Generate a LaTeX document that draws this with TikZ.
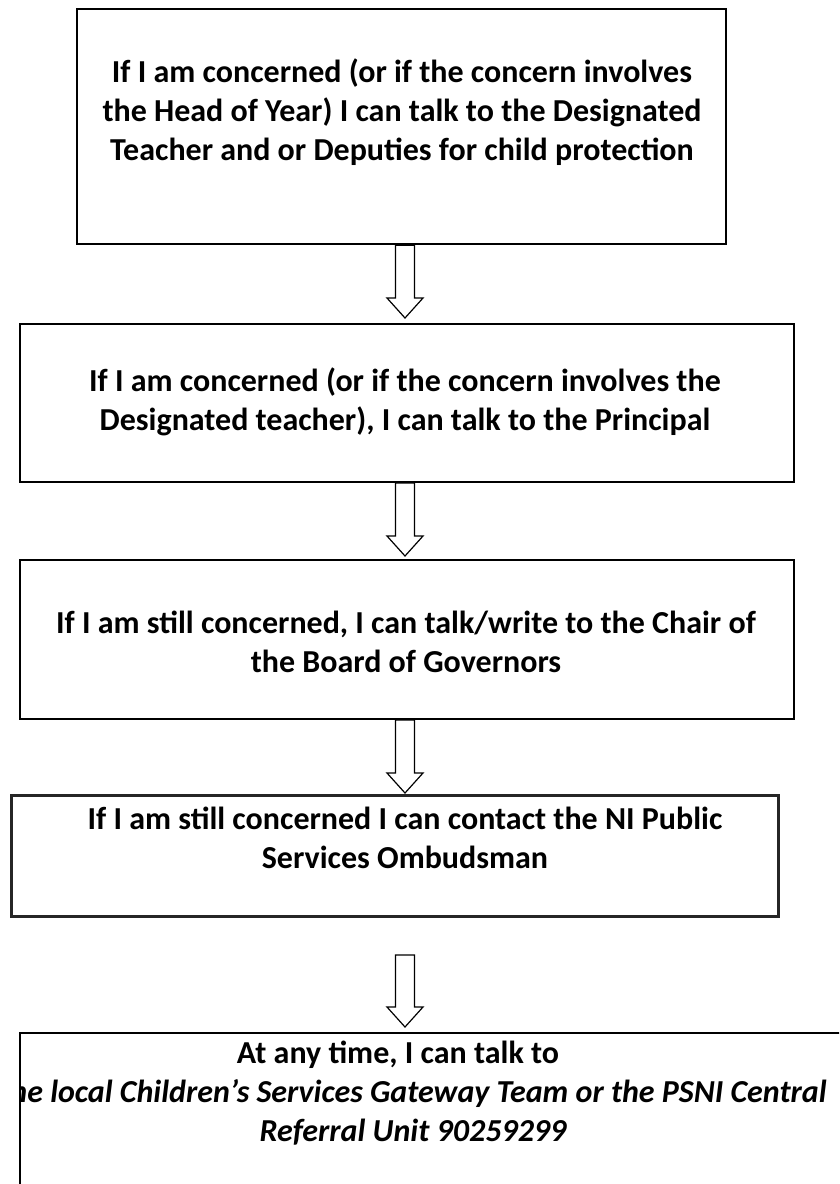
\documentclass[tikz,border=0pt]{standalone}
\usepackage{fontspec}
\setmainfont{Carlito}
\usetikzlibrary{calc}
\tikzset{
  flowbox/.style={draw=black, line width=2.2pt, fill=none, inner sep=0pt, anchor=north west},
  flowtext/.style={align=center, inner sep=0pt, font=\fontsize{32pt}{39pt}\selectfont\bfseries},
  blk/.style={draw=black, line width=1.2pt, fill=white, line join=miter}
}
\newcommand\blockarrowdraw[2]{%
  \draw[blk] let \p1=(#1), \p2=(#2) in
    (\x1-9.5pt,\y1) -- (\x1+9.5pt,\y1) -- (\x1+9.5pt,\y2+20pt) -- (\x1+18pt,\y2+20pt)
    -- (\x1,\y2) -- (\x1-18pt,\y2+20pt) -- (\x1-9.5pt,\y2+20pt) -- cycle;}
\begin{document}
\begin{tikzpicture}[x=1pt,y=-1pt]
\clip (0,0) rectangle (839,1184);
\fill[white] (0,0) rectangle (839,1184);
% boxes
\node[flowbox, minimum width=649pt, minimum height=235pt] (b1) at (76,8) {};
\node[flowbox, minimum width=774pt, minimum height=158pt] (b2) at (19,323) {};
\node[flowbox, minimum width=774pt, minimum height=159pt] (b3) at (19,559) {};
\node[flowbox, draw=black!85, line width=2.6pt, minimum width=767pt, minimum height=121pt] (b4) at (10,794) {};
\node[flowbox, minimum width=860pt, minimum height=220pt] (b5) at (19,1032) {};
% texts
\node[flowtext] (t1) at (402,112) {If I am concerned (or if the concern involves\\the Head of Year) I can talk to the Designated\\Teacher and or Deputies for child protection};
\node[flowtext] (t2) at (405,402) {If I am concerned (or if the concern involves the\\Designated teacher), I can talk to the Principal};
\node[flowtext] (t3) at (406,642) {If I am still concerned, I can talk/write to the Chair of\\the Board of Governors};
\node[flowtext] (t4) at (405,838) {If I am still concerned I can contact the NI Public\\Services Ombudsman};
\begin{scope}
\clip (20.1,1033) rectangle (839,1184);
\node[flowtext] (t5) at (413,1093) {At any time, I can talk to\hspace*{30pt}\\\itshape the local Children’s Services Gateway Team or the PSNI Central\\\itshape Referral Unit 90259299};
\end{scope}
% arrow anchor coordinates
\coordinate (a1s) at (b1.south -| 405,0);
\coordinate (a1e) at (405,318);
\coordinate (a2s) at (405,483);
\coordinate (a2e) at (405,556);
\coordinate (a3s) at (405,720);
\coordinate (a3e) at (405,793);
\coordinate (a4s) at (405,955);
\coordinate (a4e) at (405,1027);
\blockarrowdraw{a1s}{a1e}
\blockarrowdraw{a2s}{a2e}
\blockarrowdraw{a3s}{a3e}
\blockarrowdraw{a4s}{a4e}
\end{tikzpicture}
\end{document}
